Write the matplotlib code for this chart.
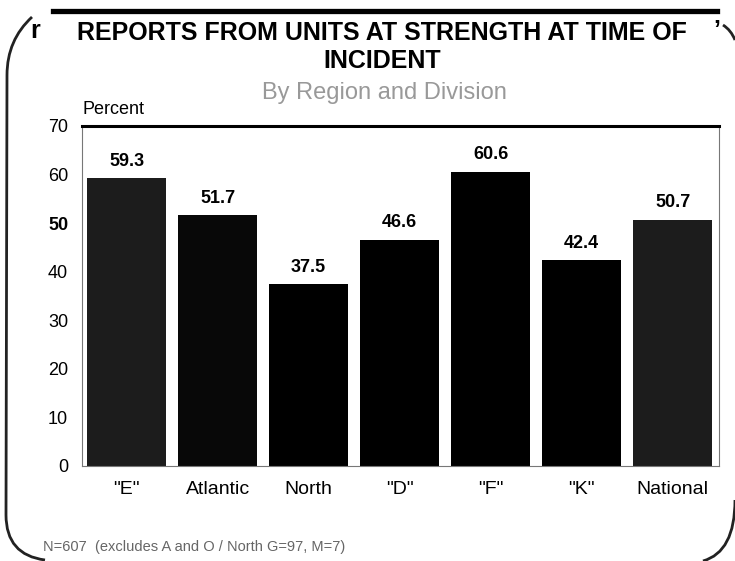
import matplotlib.pyplot as plt
from matplotlib.path import Path
from matplotlib.patches import PathPatch

plt.rcParams['font.family'] = ['Liberation Sans', 'DejaVu Sans']

categories = ['"E"', 'Atlantic', 'North', '"D"', '"F"', '"K"', 'National']
values = [59.3, 51.7, 37.5, 46.6, 60.6, 42.4, 50.7]
bar_colors = ['#1c1c1c', '#080808', '#000000', '#000000', '#000000', '#000000', '#1c1c1c']
yticks = [0, 10, 20, 30, 40, 50, 60, 70]

W, H = 735, 561
fig = plt.figure(figsize=(W / 100, H / 100), dpi=100)

def fx(px):
    return px / W

def fy(py):
    return 1 - py / H

ax = fig.add_axes([fx(82), fy(466), fx(719) - fx(82), fy(126) - fy(466)])
x = list(range(len(categories)))
bars = ax.bar(x, values, width=0.87, color=bar_colors)
for b, v in zip(bars, values):
    ax.annotate(f'{v:.1f}', (b.get_x() + b.get_width() / 2, v), xytext=(0, 6),
                textcoords='offset points', ha='center', va='bottom',
                fontsize=13, fontweight='bold')

ax.set_xlim(-0.49, 6.51)
ax.set_ylim(0, 70)
ax.set_yticks(yticks)
ax.set_xticks(x)
ax.set_xticklabels(categories, fontsize=14)
ax.tick_params(axis='x', length=0, pad=11)
ax.tick_params(axis='y', length=0, pad=10, labelsize=13)
for lab in ax.get_yticklabels():
    if lab.get_text() == '50':
        lab.set_fontweight('bold')
for side in ['left', 'bottom', 'right']:
    ax.spines[side].set_color('#777777')
    ax.spines[side].set_linewidth(0.8)
ax.spines['top'].set_linewidth(2.2)
ax.spines['top'].set_color('black')

# titles and notes
fig.text(fx(382), fy(33), 'REPORTS FROM UNITS AT STRENGTH AT TIME OF',
         ha='center', va='center', fontsize=18, fontweight='bold')
fig.text(fx(382), fy(61), 'INCIDENT', ha='center', va='center',
         fontsize=18, fontweight='bold')
fig.text(fx(384), fy(93), 'By Region and Division', ha='center', va='center',
         fontsize=17, color='#999999')
fig.text(fx(83), fy(110), 'Percent', ha='left', va='center', fontsize=13)
fig.text(fx(43), fy(547), 'N=607  (excludes A and O / North G=97, M=7)',
         ha='left', va='center', fontsize=10.5, color='#666666')
fig.text(fx(35), fy(31), 'r', ha='center', va='center', fontsize=18, fontweight='bold')
fig.text(fx(717), fy(31), '\u2019', ha='center', va='center', fontsize=18, fontweight='bold')

# frame decorations
fig.add_artist(plt.Line2D([fx(53), fx(717)], [fy(10.5), fy(10.5)], color='black', linewidth=3.8))
to_fig = fig.transFigure
left = Path([(fx(32), fy(17)), (fx(7), fy(40)), (fx(7), fy(75)), (fx(6), fy(515)),
             (fx(6), fy(555)), (fx(45), fy(560))],
            [Path.MOVETO, Path.CURVE3, Path.CURVE3, Path.LINETO, Path.CURVE3, Path.CURVE3])
right = Path([(fx(735), fy(500)), (fx(735), fy(552)), (fx(703), fy(561))],
             [Path.MOVETO, Path.CURVE3, Path.CURVE3])
topright = Path([(fx(723), fy(25)), (fx(731), fy(30)), (fx(735), fy(40))],
                [Path.MOVETO, Path.CURVE3, Path.CURVE3])
for p in [left, right, topright]:
    fig.add_artist(PathPatch(p, transform=to_fig, fill=False, linewidth=2, edgecolor='#222222'))

fig.savefig('out.png', dpi=100)
